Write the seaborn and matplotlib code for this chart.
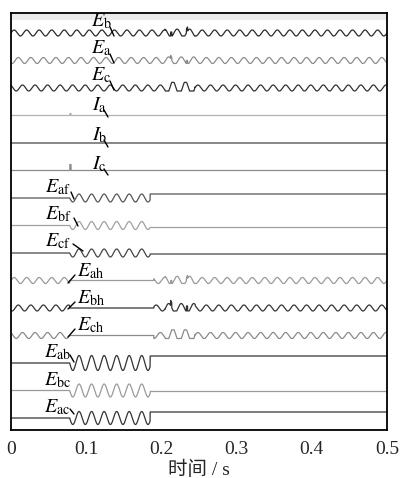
import numpy as np
import pandas as pd
import matplotlib
matplotlib.use("Agg")
import matplotlib.pyplot as plt
import seaborn as sns

# ---------------- data ----------------
names = ["b", "a", "c", "a", "b", "c", "af", "bf", "cf", "ah", "bh", "ch", "ab", "bc", "ac"]
symbols = ["E", "E", "E", "I", "I", "I", "E", "E", "E", "E", "E", "E", "E", "E", "E"]
pre_amp = [3.0, 3.0, 3.0, 0, 0, 0, 0, 0, 0, 3.0, 3.0, 3.0, 0, 0, 0]
fault_amp = [3.0, 3.0, 3.0, 0, 0, 0, 4.0, 4.0, 4.0, 0, 0, 0, 7.5, 6.5, 6.5]
post_amp = [3.0, 3.0, 3.0, 0, 0, 0, 0, 0, 0, 3.0, 3.0, 3.0, 0, 0, 0]
post_shift = [0, 0, 0, 0, 0, 0, 4.0, -2.0, -1.0, 0, 0, 0, 7.0, -1.0, 6.0]
phase_deg = [0, -120, 120, 0, 0, 0, 0, 0, 0, 0, -120, 120, 0, 0, 0]
dist_gain = [1.3, 1.2, 2.2, 0, 0, 0, 0, 0, 0, 1.4, 1.5, 2.2, 0, 0, 0]
spike_h = [4.0, 3.0, 0, 2.0, 0, 6.0, 0, 0, 0, 3.0, 5.0, 0, 0, 0, 0]
freq = 60.0
t_fault = 0.078
t_clear = 0.185
t_resume = 0.19
dist_window = [0.205, 0.245]
spike_times = [0.213, 0.234]
xticks = [0, 0.1, 0.2, 0.3, 0.4, 0.5]
colors = ["#2a2a2a", "#8c8c8c", "#303030", "#b0b0b0", "#454545", "#8a8a8a",
          "#555555", "#a0a0a0", "#454545", "#9a9a9a", "#333333", "#8a8a8a",
          "#333333", "#9a9a9a", "#333333"]

# ---------------- layout ----------------
row0, row_step = 33.0, 27.5
label_pos = [(91, 21), (91, 48), (91, 75), (92, 105), (92, 135), (92, 164),
             (45, 187), (45, 214), (45, 241), (77, 271), (77, 298), (77, 325),
             (44, 352), (44, 380), (44, 407)]
leaders = [((110, 27), (114, 36)), ((110, 54), (114, 63)), ((110, 81), (114, 90)),
           ((104, 110), (108, 117)), ((104, 140), (108, 147)), ((104, 169), (108, 175)),
           ((71, 192), (74, 199)), ((74, 218), (78, 226)), ((73, 244), (83, 251)),
           ((75, 275), (68, 283)), ((75, 302), (68, 309)), ((75, 329), (68, 337)),
           ((70, 355), (74, 362)), None, ((70, 409), (74, 414))]

t = np.linspace(0, 0.5, 6001)
w = 2 * np.pi * freq
rows = []
for i, nm in enumerate(names):
    base = row0 + i * row_step
    ph = np.deg2rad(phase_deg[i])
    sig = np.zeros_like(t)
    pre = t < t_fault
    flt = (t >= t_fault) & (t < t_clear)
    sig[pre] = pre_amp[i] * np.sin(w * t[pre] + ph)
    if pre_amp[i] > 0 and fault_amp[i] > 0:
        # continuous source voltage
        sig[t >= t_fault] = fault_amp[i] * np.sin(w * t[t >= t_fault] + ph)
    elif pre_amp[i] > 0:
        # healthy-side voltage: drops during fault, resumes later
        sig[flt] = 0
        sig[(t >= t_clear) & (t < t_resume)] = 0
        post = t >= t_resume
        sig[post] = post_amp[i] * np.sin(w * t[post] + ph)
    else:
        sig[flt] = -fault_amp[i] * np.sin(w * (t[flt] - t_fault))
        sig[t >= t_clear] = post_shift[i]
    dw = (t >= dist_window[0]) & (t < dist_window[1])
    if dist_gain[i] > 0:
        raw = dist_gain[i] * pre_amp[i] * np.sin(w * t[dw] + ph)
        sig[dw] = np.clip(raw, -pre_amp[i] * 1.0, pre_amp[i] * 1.9)
    if spike_h[i] > 0:
        st = spike_times if symbols[i] == "E" else [t_fault + 0.001]
        for s in st:
            m = np.abs(t - s) < 0.0008
            sig[m] += spike_h[i]
    rows.append(pd.DataFrame({"t": t, "y": base - sig, "trace": f"{symbols[i]}{nm}{i}"}))
df = pd.concat(rows, ignore_index=True)

# ---------------- plot ----------------
sns.set_theme(style="white")
plt.rcParams["mathtext.fontset"] = "stix"
plt.rcParams["font.family"] = ["Liberation Serif", "Noto Sans CJK SC"]

fig = plt.figure(figsize=(4.0, 4.78), dpi=100)
ax = fig.add_axes([11 / 400, 1 - 430 / 478, 376 / 400, 417 / 478])
ax.axhspan(13, 20, color="#ebebeb", lw=0, zorder=0)

palette = {f"{symbols[i]}{nm}{i}": colors[i] for i, nm in enumerate(names)}
sns.lineplot(data=df, x="t", y="y", hue="trace", palette=palette, legend=False,
             estimator=None, sort=False, lw=0.9, ax=ax)


def px2t(px):
    return (px - 11) / 752.0


for i, nm in enumerate(names):
    lx, ly = label_pos[i]
    ax.text(px2t(lx), ly, rf"${symbols[i]}_{{\mathrm{{{nm}}}}}$", fontsize=14.5,
            ha="left", va="center", color="black")
    if leaders[i] is not None:
        (x0, y0), (x1, y1) = leaders[i]
        ax.plot([px2t(x0), px2t(x1)], [y0, y1], color="black", lw=1.0)

ax.set_xlim(0, 0.5)
ax.set_ylim(430, 13)
ax.set_yticks([])
ax.set_xticks(xticks)
ax.set_xticklabels([f"{v:g}" for v in xticks], fontsize=14)
ax.tick_params(axis="x", direction="in", length=5, width=1, color="black", pad=8)
ax.set_xlabel("时间 / s", fontsize=14, labelpad=2)
ax.set_ylabel("")
for sp in ax.spines.values():
    sp.set_visible(True)
    sp.set_color("black")
    sp.set_linewidth(1.3)

fig.savefig("out.png", dpi=100)
